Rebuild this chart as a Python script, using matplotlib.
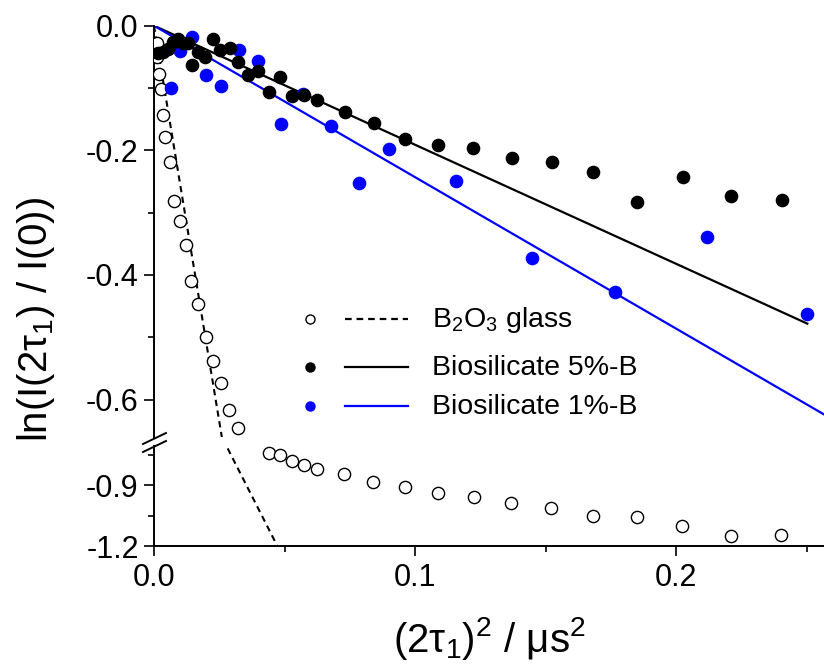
import matplotlib
matplotlib.use("Agg")
import matplotlib.pyplot as plt
from matplotlib.lines import Line2D
from matplotlib.ticker import MultipleLocator, FixedLocator
import numpy as np

plt.rcParams['font.family'] = ['Liberation Sans', 'DejaVu Sans']
plt.rcParams['mathtext.default'] = 'regular'
plt.rcParams['axes.unicode_minus'] = False

# ---------------- data ----------------
x_b2o3 = [0.0010, 0.0010, 0.0020, 0.0026, 0.0033, 0.0042, 0.0061, 0.0077, 0.0098,
          0.0123, 0.0142, 0.0170, 0.0199, 0.0227, 0.0255, 0.0289, 0.0323, 0.0442,
          0.0484, 0.0529, 0.0576, 0.0624, 0.0729, 0.0839, 0.0961, 0.1088, 0.1226,
          0.1368, 0.1521, 0.1682, 0.1849, 0.2024, 0.2209, 0.2401]
y_b2o3 = [-0.028, -0.050, -0.078, -0.102, -0.143, -0.178, -0.218, -0.281, -0.313,
          -0.352, -0.410, -0.447, -0.499, -0.538, -0.573, -0.616, -0.645, -0.738,
          -0.750, -0.778, -0.799, -0.821, -0.845, -0.885, -0.906, -0.936, -0.959,
          -0.986, -1.013, -1.050, -1.055, -1.100, -1.150, -1.144]

x_5 = [0.0017, 0.0036, 0.0055, 0.0074, 0.0093, 0.0112, 0.0131, 0.0144, 0.0170, 0.0195,
       0.0225, 0.0253, 0.0291, 0.0323, 0.0361, 0.0400, 0.0442, 0.0483, 0.0527, 0.0575,
       0.0626, 0.0732, 0.0843, 0.0962, 0.1089, 0.1224, 0.1370, 0.1524, 0.1683, 0.1849,
       0.2028, 0.2211, 0.2405]
y_5 = [-0.044, -0.043, -0.038, -0.026, -0.022, -0.027, -0.028, -0.063, -0.042, -0.050,
       -0.022, -0.039, -0.036, -0.059, -0.079, -0.073, -0.106, -0.083, -0.113, -0.111,
       -0.119, -0.139, -0.156, -0.182, -0.191, -0.196, -0.213, -0.219, -0.234, -0.283,
       -0.243, -0.273, -0.279]

x_1 = [0.0064, 0.0100, 0.0144, 0.0199, 0.0255, 0.0327, 0.0400, 0.0485, 0.0572, 0.0677,
       0.0784, 0.0902, 0.1157, 0.1447, 0.1766, 0.2118, 0.2503]
y_1 = [-0.100, -0.040, -0.018, -0.079, -0.096, -0.039, -0.056, -0.158, -0.109, -0.161,
       -0.252, -0.198, -0.249, -0.372, -0.427, -0.339, -0.463]

# linear fits (slopes) and their x ranges
slope_b2o3, xfit_b2o3 = -25.4, [0.0, 0.05]
slope_5, xfit_5 = -1.91, [0.0, 0.2503]
slope_1, xfit_1 = -2.43, [0.0, 0.27]

labels = ["B$_2$O$_3$ glass", "Biosilicate 5%-B", "Biosilicate 1%-B"]
xticks_major = [0.0, 0.1, 0.2]
yticks_top = [0.0, -0.2, -0.4, -0.6]
yticks_bot = [-0.9, -1.2]

# ---------------- figure ----------------
W, H = 824, 670
fig = plt.figure(figsize=(W / 100, H / 100), dpi=100)

def fx(px):
    return px / W

def fy(py):
    return 1 - py / H

x0, x1 = 154, 824
ax_t = fig.add_axes([fx(x0), fy(437), fx(x1) - fx(x0), fy(25.7) - fy(437)])
ax_b = fig.add_axes([fx(x0), fy(546), fx(x1) - fx(x0), fy(446) - fy(546)])

xmax = 0.2567
ax_t.set_xlim(0, xmax)
ax_b.set_xlim(0, xmax)
ax_t.set_ylim(-0.66, 0.0)
ax_b.set_ylim(-1.2, -0.705)

ms = 8.8
for ax in (ax_t, ax_b):
    ax.plot(xfit_b2o3, [slope_b2o3 * v for v in xfit_b2o3], ls=(0, (3, 2.2)), color='black', lw=1.5, zorder=2)
    ax.plot(xfit_5, [slope_5 * v for v in xfit_5], color='black', lw=1.6, zorder=2)
    ax.plot(xfit_1, [slope_1 * v for v in xfit_1], color='#0000ff', lw=1.6, zorder=2)
    ax.plot(x_b2o3, y_b2o3, 'o', mfc='white', mec='black', mew=1.0, ms=ms, zorder=3)
    ax.plot(x_1, y_1, 'o', color='#0000ff', ms=ms, zorder=3)
    ax.plot(x_5, y_5, 'o', color='black', ms=ms, zorder=4)

for ax in (ax_t, ax_b):
    ax.spines['top'].set_visible(False)
    ax.spines['right'].set_visible(False)
    ax.spines['left'].set_linewidth(1.4)
    ax.spines['bottom'].set_linewidth(1.4)
    ax.tick_params(which='major', direction='out', length=7.5, width=1.2, labelsize=22)
    ax.tick_params(which='minor', direction='out', length=4, width=1.2)
    ax.set_facecolor('none')

ax_t.spines['bottom'].set_visible(False)
ax_t.tick_params(axis='x', which='both', bottom=False, labelbottom=False)
ax_t.yaxis.set_major_locator(FixedLocator(yticks_top))
ax_t.yaxis.set_minor_locator(FixedLocator([-0.1, -0.3, -0.5]))
ax_t.set_yticklabels([f"{v:.1f}" for v in yticks_top])

ax_b.yaxis.set_major_locator(FixedLocator(yticks_bot))
ax_b.yaxis.set_minor_locator(FixedLocator([-0.75, -1.05]))
ax_b.set_yticklabels([f"{v:.1f}" for v in yticks_bot])
ax_b.xaxis.set_major_locator(FixedLocator(xticks_major))
ax_b.xaxis.set_minor_locator(MultipleLocator(0.05))
ax_b.set_xticklabels([f"{v:.1f}" for v in xticks_major])
ax_b.tick_params(axis='x', which='major', pad=5)

# break marks
for dy in (0, -8):
    fig.add_artist(Line2D([fx(143), fx(166)], [fy(452 + dy), fy(441 + dy)],
                          color='black', lw=1.4, transform=fig.transFigure))

# axis labels
fig.text(fx(489), fy(638), "(2τ$_1$)$^2$ / μs$^2$", ha='center', va='center', fontsize=29)
fig.text(fx(36), fy(320), "ln(I(2τ$_1$) / I(0))", ha='center', va='center', rotation=90, fontsize=29)

# legend (manual)
rows = [319, 367, 406]
styles = [
    dict(marker=dict(mfc='white', mec='black', mew=1.0), line=dict(color='black', ls=(0, (3, 2.2)))),
    dict(marker=dict(mfc='black', mec='black', mew=1.0), line=dict(color='black', ls='-')),
    dict(marker=dict(mfc='#0000ff', mec='#0000ff', mew=1.0), line=dict(color='#0000ff', ls='-')),
]
for r, st, lab in zip(rows, styles, labels):
    fig.add_artist(Line2D([fx(310)], [fy(r)], marker='o', ms=6.5, ls='none',
                          transform=fig.transFigure, **st['marker']))
    fig.add_artist(Line2D([fx(345), fx(408)], [fy(r), fy(r)], lw=1.6,
                          transform=fig.transFigure, **st['line']))
    fig.text(fx(432), fy(r + 1), lab, ha='left', va='center', fontsize=20.5)

fig.savefig("out.png", dpi=100)
